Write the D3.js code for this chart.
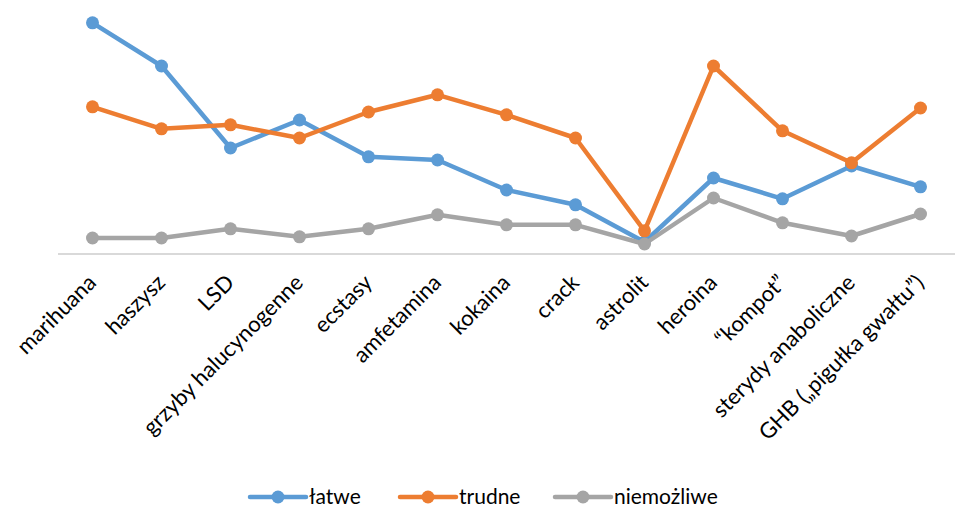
<!DOCTYPE html>
<html><head><meta charset="utf-8">
<script src="https://cdn.jsdelivr.net/npm/d3@7"></script>
<style>body{margin:0;background:#fff}svg{display:block}</style>
</head><body>
<svg id="c" width="955" height="510"></svg>
<script>
const categories = ["marihuana","haszysz","LSD","grzyby halucynogenne","ecstasy","amfetamina","kokaina","crack","astrolit","heroina","“kompot”","sterydy anaboliczne","GHB („pigułka gwałtu”)"];
const seriesNames = ["łatwe","trudne","niemożliwe"];
const latwe = [57.8,47,26.5,33.5,24.3,23.5,16,12.3,3,19,13.8,22,16.8];
const trudne = [36.8,31.3,32.3,29,35.5,39.8,34.8,29,5.8,47,30.8,22.8,36.5];
const niemozliwe = [4,4,6.3,4.3,6.3,9.8,7.3,7.3,2.5,14,7.8,4.5,10];
const colors = ["#5B9BD5","#ED7D31","#A5A5A5"];
const series = [latwe, trudne, niemozliwe];

const svg = d3.select("#c");
const font = "Lato, 'Open Sans', sans-serif";
const x = d3.scaleBand().domain(categories).range([58,955]);
const y = d3.scaleLinear().domain([0,60]).range([254,14]);

svg.append("line").attr("x1",58).attr("x2",955).attr("y1",y(0)).attr("y2",y(0))
  .attr("stroke","#D9D9D9").attr("stroke-width",2);

const cx = c => x(c) + x.bandwidth()/2;

svg.append("g").selectAll("text").data(categories).join("text")
  .attr("transform", c => `translate(${cx(c)+5},${284}) rotate(-45)`)
  .attr("text-anchor","end")
  .attr("font-family",font).attr("font-size",22).attr("fill","#000")
  .text(c=>c);

const line = d3.line().x((d,i)=>cx(categories[i])).y(d=>y(d));
series.forEach((s,k)=>{
  const g = svg.append("g");
  g.append("path").datum(s).attr("d",line).attr("fill","none")
    .attr("stroke",colors[k]).attr("stroke-width",4.5).attr("stroke-linejoin","round").attr("stroke-linecap","round");
  g.selectAll("circle").data(s).join("circle")
    .attr("cx",(d,i)=>cx(categories[i])).attr("cy",d=>y(d)).attr("r",6.5).attr("fill",colors[k]);
});

const legX = [250,400,555];
const leg = svg.append("g");
seriesNames.forEach((n,k)=>{
  const g = leg.append("g").attr("transform",`translate(${legX[k]},497)`);
  g.append("line").attr("x1",0).attr("x2",56).attr("stroke",colors[k]).attr("stroke-width",4.5).attr("stroke-linecap","round");
  g.append("circle").attr("cx",28).attr("r",6.5).attr("fill",colors[k]);
  g.append("text").attr("x",59).attr("y",7).attr("font-family",font).attr("font-size",21).text(n);
});
</script>
</body></html>
